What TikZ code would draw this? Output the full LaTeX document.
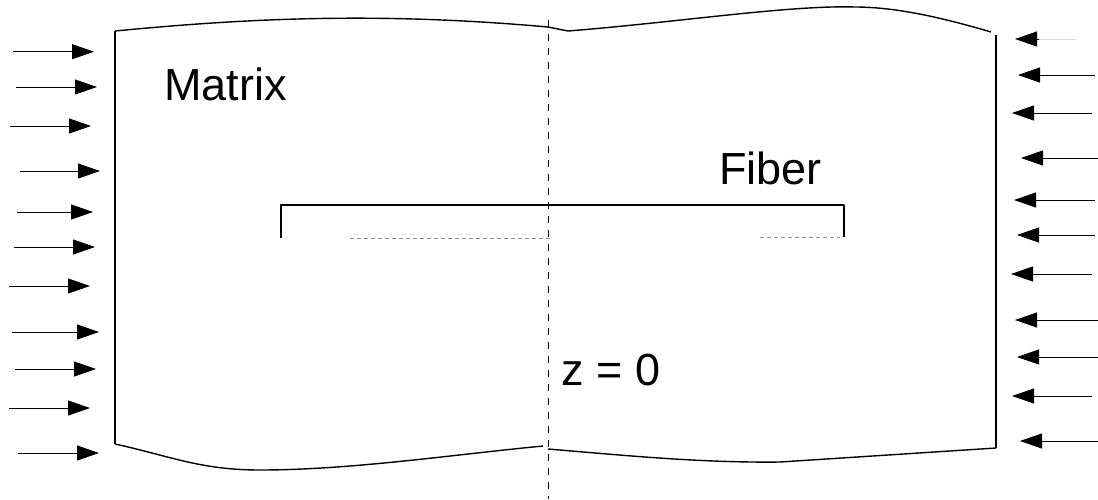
\documentclass[tikz,border=0pt]{standalone}
\usepackage{fontspec}
\setmainfont{Liberation Sans}
\usetikzlibrary{arrows.meta}
\begin{document}
\begin{tikzpicture}[x=1pt,y=-1pt,
  edge/.style={line width=1.4pt, black, line join=round},
  push/.style={line width=0.9pt, -{Triangle[length=22pt,width=15pt]}},
  axisline/.style={line width=0.8pt, dash pattern=on 7pt off 7pt},
  faint/.style={line width=0.6pt, black!45, dash pattern=on 4pt off 3pt},
  lbl/.style={anchor=base west, inner sep=0pt, font=\fontsize{45}{52}\selectfont}]
\useasboundingbox (0,0) rectangle (1098,499);

% outline of the matrix block
\coordinate (tl) at (115,31);
\coordinate (bl) at (115,444);
\coordinate (tr) at (996,35);
\coordinate (br) at (996,448);
\coordinate (tm) at (548,27);
\coordinate (tn) at (568,31);
\coordinate (tp) at (855,7);
\coordinate (te) at (991,32);
\coordinate (bm) at (543,446);
\coordinate (bn) at (548,449);
\coordinate (bq) at (260,470);
\coordinate (bs) at (780,462);

\draw[edge] (tl) -- (bl);
\draw[edge] (tr) -- (br);
\draw[edge] (tl) .. controls (250,18) and (380,12) .. (tm) -- (tn)
  .. controls (680,22) and (790,5) .. (tp) .. controls (900,7) and (950,20) .. (te);
\draw[edge] (bl) .. controls (170,456) and (200,470) .. (bq)
  .. controls (350,470) and (450,455) .. (bm);
\draw[edge] (bn) .. controls (620,455) and (700,463) .. (bs) -- (br);

% symmetry axis
\coordinate (ax1) at (548,20);
\coordinate (ax2) at (548,499);
\draw[axisline] (ax1) -- (ax2);

% fiber
\coordinate (f1) at (281,238);
\coordinate (f2) at (281,205);
\coordinate (f3) at (844,205);
\coordinate (f4) at (844,237);
\draw[edge, line width=1.2pt] (f1) -- (f2) -- (f3) -- (f4);
\coordinate (g1) at (350,238);
\coordinate (g2) at (553,238);
\coordinate (g3) at (760,237);
\coordinate (g4) at (840,237);
\draw[faint] (g1) -- (g2);
\draw[faint] (g3) -- (g4);

% labels
\node[lbl] (matrix) at (164,100) {Matrix};
\node[lbl] (fiber) at (719,184) {Fiber};
\node[lbl] (zero) at (561,385) {z\hspace{0.28em}=\hspace{0.28em}0};

% loading arrows, left side
\foreach \y/\a/\b [count=\i] in {51.7/13/94, 87/16/97, 126/10/91, 171/20/100,
    212/17/93, 247/14/95, 286/9/90, 332/12/99, 369/15/96, 408/9/90, 453/18/99} {
  \coordinate (L\i a) at (\a,\y);
  \coordinate (L\i b) at (\b,\y);
  \draw[push] (L\i a) -- (L\i b);
}
% loading arrows, right side
\foreach \y/\a/\b [count=\i from 2] in {75/1095/1018, 113/1092/1012, 158/1098/1021,
    200/1095/1014, 235/1095/1017, 274/1092/1011, 320/1098/1015, 357/1098/1017,
    396/1092/1012, 441/1098/1020} {
  \coordinate (R\i a) at (\a,\y);
  \coordinate (R\i b) at (\b,\y);
  \draw[push] (R\i a) -- (R\i b);
}
\coordinate (R1a) at (1076,39);
\coordinate (R1c) at (1039,39);
\coordinate (R1b) at (1015,39);
\draw[line width=0.6pt, black!15] (R1a) -- (R1c);
\draw[push] (R1c) -- (R1b);
\end{tikzpicture}
\end{document}
